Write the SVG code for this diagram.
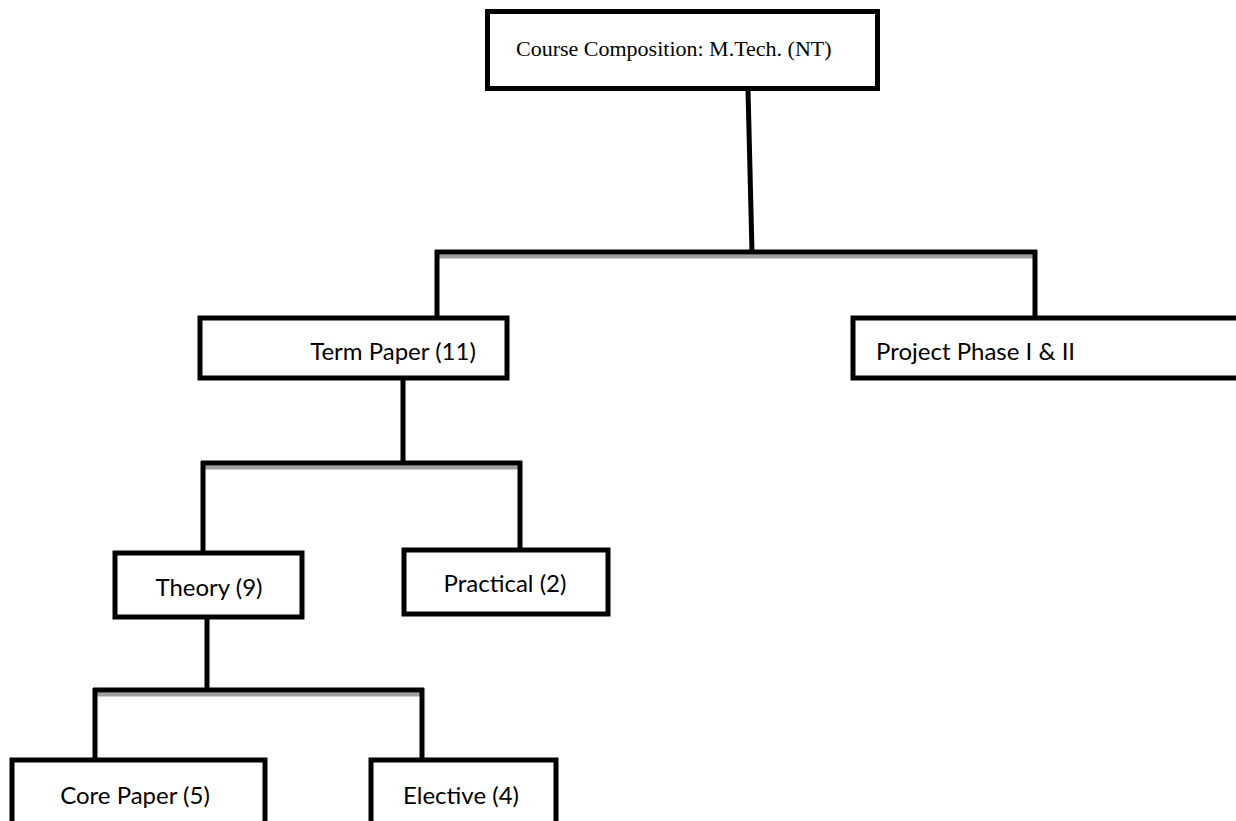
<svg xmlns="http://www.w3.org/2000/svg" width="1236" height="821" viewBox="0 0 1236 821">
<style>
.box{fill:#fff;stroke:#000;stroke-width:5}
.ln{stroke:#000;stroke-width:5;fill:none}
.sh{stroke:#a0a0a0;stroke-width:4;fill:none}
.serif{font-family:"Liberation Serif","Times New Roman",serif;font-size:22px;fill:#000}
.sans{font-family:Lato,"Open Sans",sans-serif;font-size:24px;fill:#000}
</style>
<rect width="1236" height="821" fill="#fff"/>
<g id="connectors">
<line class="ln" x1="748" y1="90" x2="752" y2="252"/>
<line class="sh" x1="437" y1="256.5" x2="1035" y2="256.5"/>
<line class="ln" x1="435" y1="252" x2="1037" y2="252"/>
<line class="ln" x1="437" y1="250" x2="437" y2="318"/>
<line class="ln" x1="1035" y1="250" x2="1035" y2="318"/>
<line class="ln" x1="403" y1="378" x2="403" y2="463"/>
<line class="sh" x1="203" y1="467.5" x2="520" y2="467.5"/>
<line class="ln" x1="201" y1="463" x2="522" y2="463"/>
<line class="ln" x1="203" y1="461" x2="203" y2="553"/>
<line class="ln" x1="520" y1="461" x2="520" y2="550"/>
<line class="ln" x1="207" y1="617" x2="207" y2="690"/>
<line class="sh" x1="95" y1="694.5" x2="422" y2="694.5"/>
<line class="ln" x1="93" y1="690" x2="424" y2="690"/>
<line class="ln" x1="95" y1="688" x2="95" y2="760"/>
<line class="ln" x1="422" y1="688" x2="422" y2="760"/>
</g>
<g id="n-course">
<rect class="box" x="487.5" y="11.5" width="390" height="77"/>
<text class="serif" x="516" y="56">Course Composition: M.Tech. (NT)</text>
</g>
<g id="n-term">
<rect class="box" x="200" y="318" width="307" height="60"/>
<text class="sans" x="393" y="360" text-anchor="middle">Term Paper (11)</text>
</g>
<g id="n-project">
<rect class="box" x="853" y="318" width="400" height="60"/>
<text class="sans" x="876" y="360">Project Phase I &amp; II</text>
</g>
<g id="n-theory">
<rect class="box" x="115" y="553" width="187" height="64"/>
<text class="sans" x="209" y="596" text-anchor="middle">Theory (9)</text>
</g>
<g id="n-practical">
<rect class="box" x="404" y="550" width="204" height="64"/>
<text class="sans" x="505" y="592" text-anchor="middle">Practical (2)</text>
</g>
<g id="n-core">
<rect class="box" x="12" y="760" width="253" height="80"/>
<text class="sans" x="135" y="804" text-anchor="middle">Core Paper (5)</text>
</g>
<g id="n-elective">
<rect class="box" x="371" y="760" width="185" height="80"/>
<text class="sans" x="461" y="804" text-anchor="middle">Elective (4)</text>
</g>
</svg>
